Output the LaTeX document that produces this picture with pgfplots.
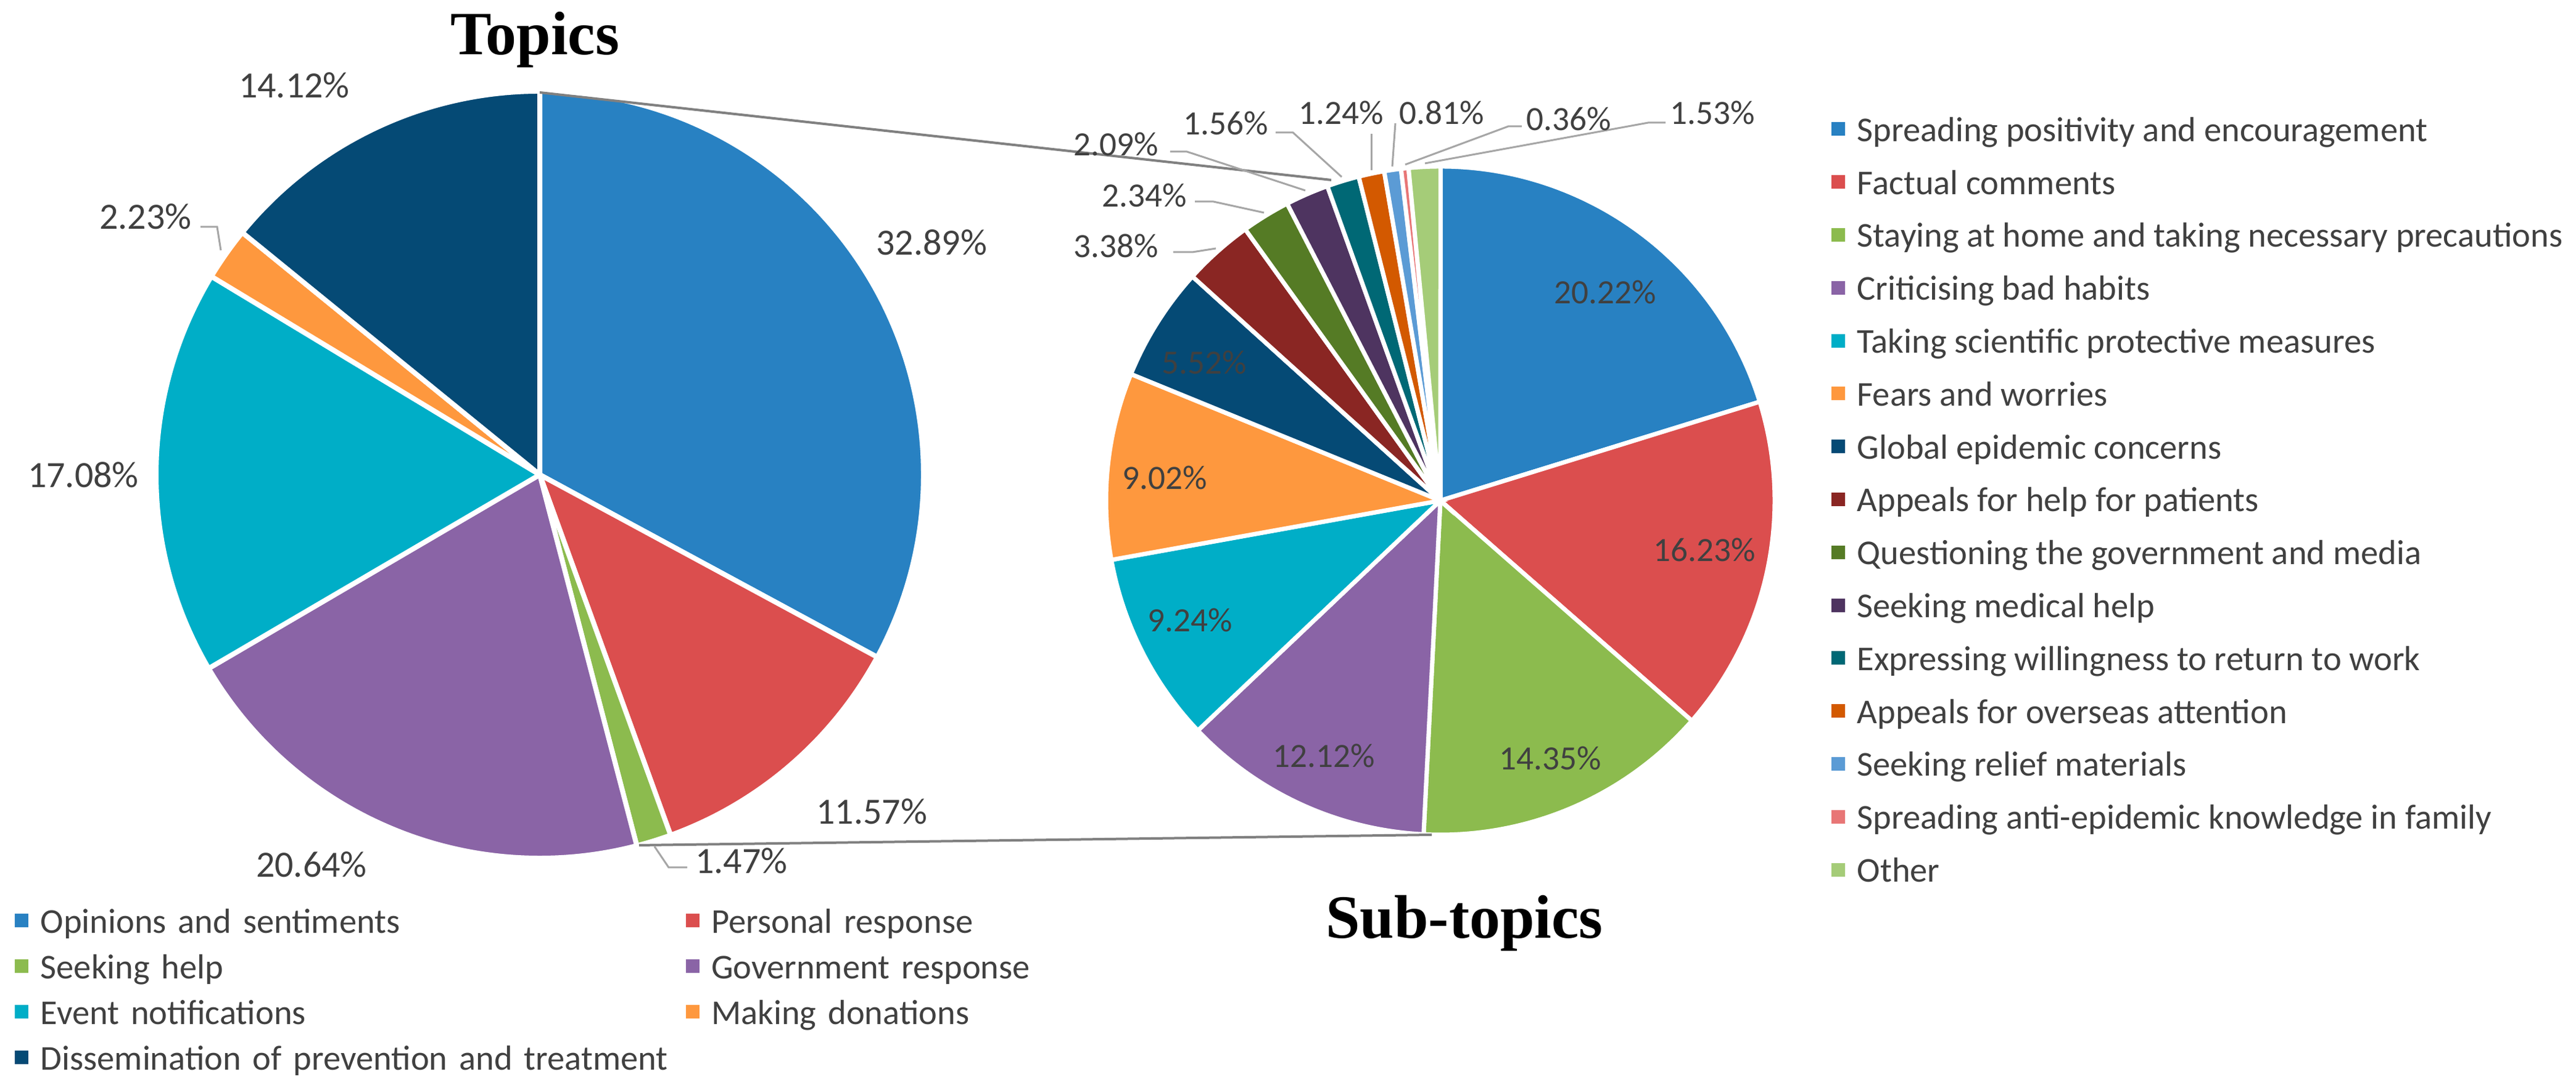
\documentclass[border=0pt]{standalone}
\usepackage{pgfplots}
\pgfplotsset{compat=1.18}
\usepackage{pgfplotstable}
\usepackage{fontspec}
\setmainfont{Carlito}
\newfontfamily\titlefont{Liberation Serif}

\definecolor{cA}{HTML}{2881C2}
\definecolor{cB}{HTML}{DB4E4E}
\definecolor{cC}{HTML}{8CBB4E}
\definecolor{cD}{HTML}{8A64A6}
\definecolor{cE}{HTML}{00AEC7}
\definecolor{cF}{HTML}{FE983E}
\definecolor{cG}{HTML}{054A75}
\definecolor{cH}{HTML}{8A2623}
\definecolor{cI}{HTML}{557B25}
\definecolor{cJ}{HTML}{4E3460}
\definecolor{cK}{HTML}{006875}
\definecolor{cL}{HTML}{D35900}
\definecolor{cM}{HTML}{5B9BD5}
\definecolor{cN}{HTML}{E87676}
\definecolor{cO}{HTML}{A5CC78}
\definecolor{txt}{HTML}{404040}
\definecolor{lead}{HTML}{A6A6A6}
\definecolor{conn}{HTML}{808080}

% topics (left pie): share in %, colour, label position (px of the original)
\pgfplotstableread[col sep=comma]{
pct,col,lx,ly
32.89,cA,1510,393
11.57,cB,1413,1316
1.47,cC,1202,1396
20.64,cD,505,1402
17.08,cE,135,770
2.23,cF,236,351
14.12,cG,477,138
}\topics

% sub-topics (right pie)
\pgfplotstableread[col sep=comma]{
pct,col,lx,ly
20.22,cA,2602,474
16.23,cB,2763,892
14.35,cC,2513,1230
12.12,cD,2146,1226
9.24,cE,1929,1006
9.02,cF,1888,775
5.52,cG,1952,588
3.38,cH,1809,399
2.34,cI,1855,317
2.09,cJ,1809,234
1.56,cK,1987,200
1.24,cL,2174,183
0.81,cM,2337,183
0.36,cN,2543,193
1.53,cO,2776,183
}\subtopics

% whole canvas in pixels of the original, 1 px = 0.05 mm
\pgfplotsset{canvas/.style={x=0.05mm, y=0.05mm, xmin=0, xmax=4176, ymin=0, ymax=1755,
  hide axis, clip=false}}

\tikzset{
  labL/.style={font=\fontsize{8.54}{10}\selectfont, text=txt, inner sep=0pt},
  labR/.style={font=\fontsize{7.85}{9}\selectfont, text=txt, inner sep=0pt},
  leader/.style={draw=lead, line width=0.15mm},
}

% #1 table, #2 cx, #3 cy, #4 radius, #5 gap
\newcommand\pieslices[5]{%
  \pgfplotstablegetrowsof{#1}%
  \pgfmathtruncatemacro\lastrow{\pgfplotsretval-1}%
  \gdef\piecum{0}%
  \foreach \i in {0,...,\lastrow}{%
    \pgfplotstablegetelem{\i}{pct}\of#1\let\slicepct\pgfplotsretval
    \pgfplotstablegetelem{\i}{col}\of#1\let\slicecol\pgfplotsretval
    \pgfmathsetmacro\angA{90-3.6*\piecum}%
    \pgfmathsetmacro\angB{90-3.6*(\piecum+\slicepct)}%
    \edef\slicecmd{\noexpand\fill[\slicecol, draw=white, line width=#5]
      (axis cs:#2,#3) -- +(\angA:#4) arc[start angle=\angA, end angle=\angB, radius=#4] -- cycle;}%
    \slicecmd
    \pgfmathsetmacro\nextcum{\piecum+\slicepct}\xdef\piecum{\nextcum}%
  }%
}

% #1 table, #2 node style
\newcommand\pielabels[2]{%
  \pgfplotstablegetrowsof{#1}%
  \pgfmathtruncatemacro\lastrow{\pgfplotsretval-1}%
  \foreach \i in {0,...,\lastrow}{%
    \pgfplotstablegetelem{\i}{pct}\of#1\let\slicepct\pgfplotsretval
    \pgfplotstablegetelem{\i}{lx}\of#1\let\labx\pgfplotsretval
    \pgfplotstablegetelem{\i}{ly}\of#1\let\laby\pgfplotsretval
    \edef\labcmd{\noexpand\node[#2] at (axis cs:\labx,\laby) {\slicepct\noexpand\%};}%
    \labcmd
  }%
}

\begin{document}
\begin{tikzpicture}

\begin{axis}[canvas, y dir=reverse]
\pieslices{\topics}{875}{770}{31.1mm}{0.4mm}
\pieslices{\subtopics}{2335}{812}{27.1mm}{0.35mm}

% connectors between the pies
\draw[conn, line width=0.2mm] (axis cs:875,150) -- (axis cs:2158,292);
\draw[conn, line width=0.2mm] (axis cs:1036,1371) -- (axis cs:2321,1354);

% leader lines
\draw[leader] (axis cs:358,406) -- (axis cs:352,368) -- (axis cs:325,368);
\draw[leader] (axis cs:1061,1373) -- (axis cs:1084,1407) -- (axis cs:1114,1407);
\draw[leader] (axis cs:1971,403) -- (axis cs:1933,409) -- (axis cs:1902,409);
\draw[leader] (axis cs:2049,345) -- (axis cs:1967,327) -- (axis cs:1937,327);
\draw[leader] (axis cs:2116,309) -- (axis cs:1924,246) -- (axis cs:1897,246);
\draw[leader] (axis cs:2175,287) -- (axis cs:2096,215) -- (axis cs:2068,215);
\draw[leader] (axis cs:2223,276) -- (axis cs:2223,217);
\draw[leader] (axis cs:2257,270) -- (axis cs:2262,200);
\draw[leader] (axis cs:2278,267) -- (axis cs:2445,205) -- (axis cs:2467,205);
\draw[leader] (axis cs:2310,265) -- (axis cs:2672,199) -- (axis cs:2700,199);

\pielabels{\topics}{labL}
\pielabels{\subtopics}{labR}

\node[anchor=base, inner sep=0pt, font=\titlefont\bfseries\fontsize{14.2}{16}\selectfont]
  at (axis cs:867,89) {Topics};
\node[anchor=base, inner sep=0pt, font=\titlefont\bfseries\fontsize{14.2}{16}\selectfont]
  at (axis cs:2374,1522) {Sub-topics};
\end{axis}

% legend of the sub-topics
\begin{axis}[canvas,
  legend cell align=left,
  legend image code/.code={\path[draw=none, fill] (0mm,-0.55mm) rectangle (1.1mm,0.55mm); \path (2.0mm,0mm);},
  legend style={draw=none, fill=none, inner sep=0pt, at={(0.7107,0.8929)}, anchor=north west,
    row sep=2.29mm, column sep=0pt, font=\fontsize{8.04}{9}\selectfont, text=txt,
    nodes={inner sep=0pt, text height=2.0mm, text depth=0pt}}]
\addlegendimage{fill=cA}\addlegendentry{Spreading positivity and encouragement}
\addlegendimage{fill=cB}\addlegendentry{Factual comments}
\addlegendimage{fill=cC}\addlegendentry{Staying at home and taking necessary precautions}
\addlegendimage{fill=cD}\addlegendentry{Criticising bad habits}
\addlegendimage{fill=cE}\addlegendentry{Taking scientific protective measures}
\addlegendimage{fill=cF}\addlegendentry{Fears and worries}
\addlegendimage{fill=cG}\addlegendentry{Global epidemic concerns}
\addlegendimage{fill=cH}\addlegendentry{Appeals for help for patients}
\addlegendimage{fill=cI}\addlegendentry{Questioning the government and media}
\addlegendimage{fill=cJ}\addlegendentry{Seeking medical help}
\addlegendimage{fill=cK}\addlegendentry{Expressing willingness to return to work}
\addlegendimage{fill=cL}\addlegendentry{Appeals for overseas attention}
\addlegendimage{fill=cM}\addlegendentry{Seeking relief materials}
\addlegendimage{fill=cN}\addlegendentry{Spreading anti-epidemic knowledge in family}
\addlegendimage{fill=cO}\addlegendentry{Other}
\end{axis}

% legend of the topics
\begin{axis}[canvas,
  legend columns=2,
  legend cell align=left,
  legend image code/.code={\path[draw=none, fill] (0mm,-0.55mm) rectangle (1.1mm,0.55mm); \path (2.0mm,0mm);},
  legend style={draw=none, fill=none, inner sep=0pt, at={(0.005508,0.16125)}, anchor=north west,
    row sep=1.7mm, column sep=0pt, font=\fontsize{8.04}{9}\selectfont, text=txt,
    nodes={inner sep=0pt, text height=2.0mm, text depth=0pt, text width=52.3mm, align=left}}]
\addlegendimage{fill=cA}\addlegendentry{Opinions and sentiments}
\addlegendimage{fill=cB}\addlegendentry{Personal response}
\addlegendimage{fill=cC}\addlegendentry{Seeking help}
\addlegendimage{fill=cD}\addlegendentry{Government response}
\addlegendimage{fill=cE}\addlegendentry{Event notifications}
\addlegendimage{fill=cF}\addlegendentry{Making donations}
\addlegendimage{fill=cG}\addlegendentry{Dissemination of prevention and treatment}
\end{axis}

\pgfresetboundingbox
\path[use as bounding box] (current axis.south west) rectangle (current axis.north east);
\end{tikzpicture}
\end{document}
